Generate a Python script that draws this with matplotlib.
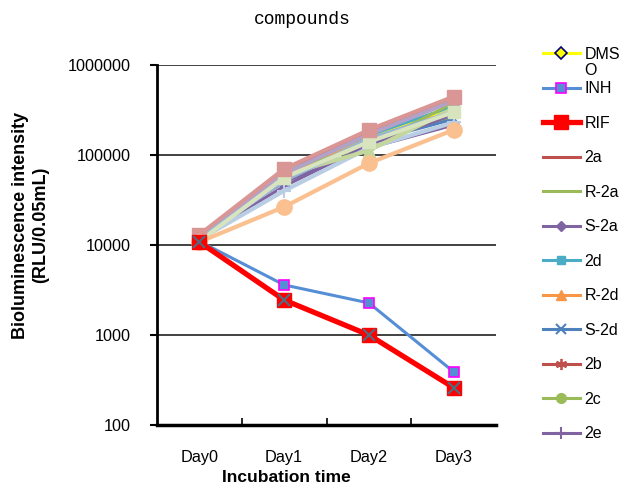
import numpy as np
import matplotlib.pyplot as plt
from matplotlib.ticker import FixedLocator, NullFormatter

plt.rcParams['font.family'] = ['Liberation Sans', 'DejaVu Sans']

days = ['Day0', 'Day1', 'Day2', 'Day3']

# legend series
dmso = [12500, 62000, 160000, 330000]
inh = [11000, 3600, 2270, 390]
rif = [10800, 2450, 1000, 260]
s_2a = [12500, 65000, 175000, 400000]
s_r2a = [12000, 60000, 140000, 260000]
s_s2a = [13000, 50000, 120000, 215000]
s_2d = [12500, 63000, 165000, 350000]
s_r2d = [12000, 58000, 150000, 310000]
s_s2d = [12000, 55000, 140000, 250000]
s_2b = [12500, 66000, 180000, 420000]
s_2c = [11500, 68000, 125000, 380000]
s_2e = [12000, 45000, 130000, 280000]

# further series (not listed in the legend)
extra_bluegray = [11500, 40000, 120000, 230000]
extra_green = [11500, 60000, 112000, 330000]
extra_lilac = [12500, 62000, 170000, 400000]
extra_blue = [12000, 52000, 150000, 300000]
extra_palegreen = [11000, 56000, 140000, 300000]
extra_pink = [13000, 70000, 190000, 445000]
extra_peach = [10800, 26500, 81000, 190000]

x = np.arange(len(days))

fig = plt.figure(figsize=(6.19, 4.88), dpi=100)
ax = fig.add_axes([157/619, 1-425/488, (496-157)/619, (425-65)/488])

h = []
h += ax.plot(x, dmso, color='#FFFF00', lw=2.2, marker='D', ms=6, mfc='#FFFF00', mec='#000080', mew=1.2, label='DMS', zorder=3)
h += ax.plot(x, inh, color='#558ED5', lw=2.2, marker='s', ms=7, mfc='#558ED5', mec='#FF00FF', mew=1.2, label='INH', zorder=3)
h += ax.plot(x, rif, color='#FF0000', lw=3.8, marker='s', ms=10, mfc='#FF0000', mec='#FF0000', zorder=4, label='RIF')
ax.plot(x, rif, ls='none', marker='x', ms=9, mec='#4F6C80', mew=1.5, zorder=5)
h += ax.plot(x, s_2a, color='#C0504D', lw=2.2, marker='_', ms=6, label='2a', zorder=3)
h += ax.plot(x, s_r2a, color='#9BBB59', lw=2.2, marker='_', ms=6, label='R-2a', zorder=3)
h += ax.plot(x, s_s2a, color='#8064A2', lw=2.2, marker='D', ms=5, label='S-2a', zorder=3)
h += ax.plot(x, s_2d, color='#4BACC6', lw=2.2, marker='s', ms=6, label='2d', zorder=3)
h += ax.plot(x, s_r2d, color='#F79646', lw=2.2, marker='^', ms=7, label='R-2d', zorder=3)
h += ax.plot(x, s_s2d, color='#4F81BD', lw=2.2, marker='x', ms=7, mew=1.5, label='S-2d', zorder=3)
h += ax.plot(x, s_2b, color='#C0504D', lw=2.2, marker=(6, 2, 0), ms=8, mew=1.3, label='2b', zorder=3)
h += ax.plot(x, s_2c, color='#9BBB59', lw=2.2, marker='o', ms=7, label='2c', zorder=3)
h += ax.plot(x, s_2e, color='#8064A2', lw=2.2, marker='+', ms=8, mew=1.5, label='2e', zorder=3)

ax.plot(x, extra_bluegray, color='#B9CDE5', lw=3, marker='+', ms=10, mew=1.5, zorder=3)
ax.plot(x, extra_green, color='#C3D69B', lw=3, marker='^', ms=8, zorder=3)
ax.plot(x, extra_lilac, color='#B3A2C7', lw=3, marker='D', ms=6, zorder=3)
ax.plot(x, extra_blue, color='#95B3D7', lw=3, marker='x', ms=9, mew=1.5, zorder=3)
ax.plot(x, extra_palegreen, color='#D7E4BD', lw=3, marker='s', ms=8, zorder=3)
ax.plot(x, extra_pink, color='#D99694', lw=3, marker='s', ms=10, zorder=3)
ax.plot(x, extra_peach, color='#FAC090', lw=3, marker='o', ms=11, zorder=3)

ax.set_yscale('log')
ax.set_ylim(100, 1000000)
ax.set_xlim(-0.5, 3.5)
ax.yaxis.set_major_locator(FixedLocator([100, 1000, 10000, 100000, 1000000]))
ax.yaxis.set_minor_locator(FixedLocator([]))
ax.set_yticklabels(['100', '1000', '10000', '100000', '1000000'])
ax.yaxis.grid(True, color='#333333', lw=1.3)
ax.set_axisbelow(True)
ax.tick_params(axis='y', direction='out', length=5, width=1.5, pad=14, labelsize=11.7)

ax.xaxis.set_major_locator(FixedLocator([0.5, 1.5, 2.5]))
ax.xaxis.set_major_formatter(NullFormatter())
ax.xaxis.set_minor_locator(FixedLocator(x))
ax.set_xticklabels(days, minor=True)
ax.tick_params(axis='x', which='major', direction='in', length=5, width=1.2)
ax.tick_params(axis='x', which='minor', length=0, pad=18, labelsize=11.7)

for s in ['top', 'right']:
    ax.spines[s].set_visible(False)
ax.spines['left'].set_linewidth(2)
ax.spines['bottom'].set_linewidth(2.5)

ax.set_xlabel('Incubation time', fontsize=12.5, fontweight='bold', va='top')
ax.xaxis.set_label_coords((286-157)/339, (425-470)/360)
ax.set_ylabel('Bioluminescence intensity\n(RLU/0.05mL)', fontsize=13, fontweight='bold')
ax.yaxis.set_label_coords((49-157)/339, (425-225)/360)
fig.text(302/619, 1-20/488, 'compounds', ha='center', va='center', fontsize=13, family='Liberation Mono')

leg = fig.legend(handles=h, loc='upper left', bbox_to_anchor=(535/619, 1-39/488), frameon=False,
                 fontsize=11.5, handlelength=2.3, labelspacing=1.22, handletextpad=0.3, borderpad=0)
fig.canvas.draw()
t0 = leg.get_texts()[0]
bb = t0.get_window_extent()
fig.text(bb.x0 / fig.bbox.width, (bb.y0 - 1) / fig.bbox.height, 'O', ha='left', va='top', fontsize=11.5)

fig.savefig('out.png', dpi=100)
